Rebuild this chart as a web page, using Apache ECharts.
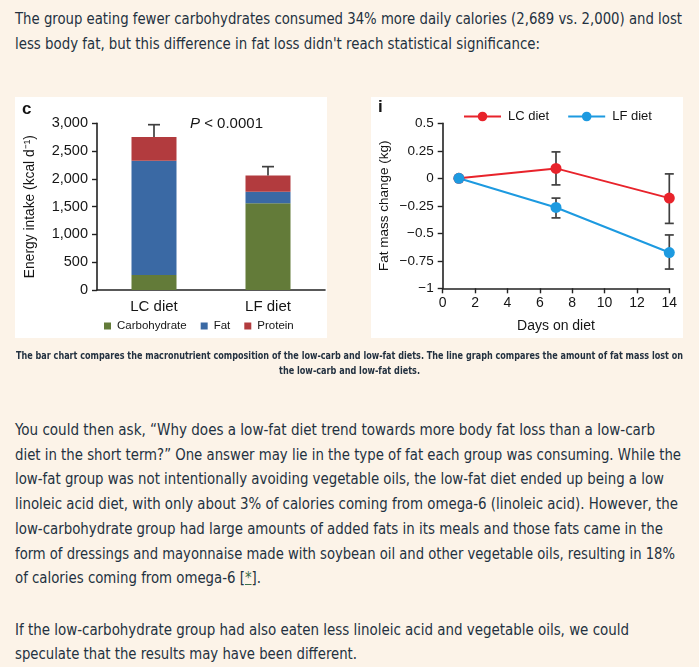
<!DOCTYPE html>
<html>
<head>
<meta charset="utf-8">
<script src="https://cdn.jsdelivr.net/npm/echarts@6/dist/echarts.min.js"></script>
<style>
html,body{margin:0;padding:0;}
body{width:699px;height:667px;overflow:hidden;background:#fcf3e8;position:relative;color:#233140;}
.ln{position:absolute;white-space:nowrap;font-family:"Liberation Sans Narrow","DejaVu Sans Condensed","Roboto",sans-serif;font-size:16px;line-height:1;transform-origin:0 50%;}
.cap{font-size:10.5px;font-weight:bold;}
.lk{color:#3b6e49;text-decoration:underline;}
#chart{position:absolute;left:0;top:90px;width:699px;height:260px;}
</style>
</head>
<body>
<div class="ln" style="left:15px;top:11px" data-w="667">The group eating fewer carbohydrates consumed 34% more daily calories (2,689 vs. 2,000) and lost</div>
<div class="ln" style="left:15px;top:35.5px" data-w="525">less body fat, but this difference in fat loss didn't reach statistical significance:</div>

<div id="chart"></div>

<div class="ln cap" style="top:349.5px" data-w="667" data-cx="349.5">The bar chart compares the macronutrient composition of the low-carb and low-fat diets. The line graph compares the amount of fat mass lost on</div>
<div class="ln cap" style="top:364.5px" data-w="141" data-cx="349.5">the low-carb and low-fat diets.</div>

<div class="ln" style="left:15px;top:422px" data-w="640">You could then ask, “Why does a low-fat diet trend towards more body fat loss than a low-carb</div>
<div class="ln" style="left:15px;top:446.7px" data-w="666">diet in the short term?” One answer may lie in the type of fat each group was consuming. While the</div>
<div class="ln" style="left:15px;top:471.4px" data-w="649">low-fat group was not intentionally avoiding vegetable oils, the low-fat diet ended up being a low</div>
<div class="ln" style="left:15px;top:496.1px" data-w="663">linoleic acid diet, with only about 3% of calories coming from omega-6 (linoleic acid). However, the</div>
<div class="ln" style="left:15px;top:520.8px" data-w="648">low-carbohydrate group had large amounts of added fats in its meals and those fats came in the</div>
<div class="ln" style="left:15px;top:545.5px" data-w="660">form of dressings and mayonnaise made with soybean oil and other vegetable oils, resulting in 18%</div>
<div class="ln" style="left:15px;top:570.2px" data-w="246">of calories coming from omega-6 [<span class="lk">*</span>].</div>
<div class="ln" style="left:15px;top:621.5px" data-w="614">If the low-carbohydrate group had also eaten less linoleic acid and vegetable oils, we could</div>
<div class="ln" style="left:15px;top:646.2px" data-w="342">speculate that the results may have been different.</div>

<script>
// ---- Data: panel c (energy intake, kcal/day) ----
const categories = ['LC diet', 'LF diet'];
const carbohydrate = [270, 1560];
const fat = [2057, 210];
const protein = [426, 290];
const intakeUpper = [2975, 2220];
const intakeTicks = [0, 500, 1000, 1500, 2000, 2500, 3000];

// ---- Data: panel i (fat mass change, kg) ----
const days = [1, 7, 14];
const lcFatMass = [0, 0.09, -0.18];
const lfFatMass = [0, -0.265, -0.675];
const lcLower = [null, -0.06, -0.41];
const lcUpper = [null, 0.24, 0.04];
const lfLower = [null, -0.36, -0.825];
const lfUpper = [null, -0.18, -0.515];
const dayTicks = [0, 2, 4, 6, 8, 10, 12, 14];
const massTicks = [-1, -0.75, -0.5, -0.25, 0, 0.25, 0.5];

const FONT = '"Liberation Sans", Arial, sans-serif';
const INK = '#151515';
const AX = '#222222';
const ERR = '#404040';

function fmtThousands(v) { return Number(v).toLocaleString('en-US'); }
function fmtMinus(v) { return v < 0 ? '\u2212' + String(Math.abs(v)) : String(v); }

const intakeErr = categories.map((c, i) => [i, carbohydrate[i] + fat[i] + protein[i], intakeUpper[i]]);
function massErr(lower, upper) {
  const out = [];
  days.forEach((d, i) => { if (lower[i] !== null) out.push([d, lower[i], upper[i]]); });
  return out;
}

function errRender(half) {
  return function (params, api) {
    const x = api.value(0);
    const a = api.coord([x, api.value(1)]);
    const b = api.coord([x, api.value(2)]);
    const st = { stroke: ERR, lineWidth: 1.7 };
    const ch = [
      { type: 'line', shape: { x1: a[0], y1: a[1], x2: b[0], y2: b[1] }, style: st },
      { type: 'line', shape: { x1: b[0] - half, y1: b[1], x2: b[0] + half, y2: b[1] }, style: st }
    ];
    if (params.seriesName.indexOf('mass') >= 0) {
      ch.push({ type: 'line', shape: { x1: a[0] - half, y1: a[1], x2: a[0] + half, y2: a[1] }, style: st });
    }
    return { type: 'group', children: ch };
  };
}

const chart = echarts.init(document.getElementById('chart'), null, { renderer: 'canvas' });
const option = {
  animation: false,
  textStyle: { fontFamily: FONT, color: INK },
  graphic: [
    { type: 'rect', z: -10, shape: { x: 15, y: 7, width: 312, height: 241 }, style: { fill: '#ffffff' } },
    { type: 'rect', z: -10, shape: { x: 371, y: 7, width: 312, height: 241 }, style: { fill: '#ffffff' } },
    { type: 'text', x: 22, y: 19, style: { text: 'c', font: 'bold 17px ' + FONT, fill: INK, verticalAlign: 'middle' } },
    { type: 'text', x: 378, y: 17, style: { text: 'i', font: 'bold 17px ' + FONT, fill: INK, verticalAlign: 'middle' } },
    { type: 'text', x: 190, y: 33.5, style: { text: '{i|P} < 0.0001', fontFamily: FONT, fontSize: 15, fill: INK, verticalAlign: 'middle', rich: { i: { fontStyle: 'italic', fontSize: 15, fontFamily: FONT } } } }
  ],
  legend: [
    {
      data: ['Carbohydrate', 'Fat', 'Protein'],
      left: 104, top: 230, padding: 0, icon: 'rect', itemWidth: 7, itemHeight: 7, itemGap: 14,
      textStyle: { fontSize: 11.5, color: INK, fontFamily: FONT, padding: [0, 0, 0, 1] }
    },
    {
      data: ['LC diet', 'LF diet'],
      left: 463, top: 20, padding: 0, itemWidth: 37, itemHeight: 12, itemGap: 18,
      textStyle: { fontSize: 13, color: INK, fontFamily: FONT, padding: [0, 0, 0, 2] }
    }
  ],
  grid: [
    { left: 97, top: 33.3, width: 228, height: 166.7 },
    { left: 442.7, top: 33.3, width: 226.6, height: 165 }
  ],
  xAxis: [
    {
      gridIndex: 0, type: 'category', data: categories, boundaryGap: true,
      axisLine: { lineStyle: { color: AX, width: 1.6 } }, axisTick: { show: false },
      axisLabel: { fontSize: 15, color: INK, margin: 9, fontFamily: FONT }
    },
    {
      gridIndex: 1, type: 'value', min: 0, max: 14, interval: 2,
      axisLine: { show: true, onZero: false, lineStyle: { color: AX, width: 1.6 } },
      axisTick: { show: true, length: 5, lineStyle: { color: AX, width: 1.4 } },
      splitLine: { show: false },
      axisLabel: { fontSize: 14, color: INK, margin: 8, fontFamily: FONT, customValues: dayTicks },
      name: 'Days on diet', nameLocation: 'middle', nameGap: 31,
      nameTextStyle: { fontSize: 14, color: INK, fontFamily: FONT }
    }
  ],
  yAxis: [
    {
      gridIndex: 0, type: 'value', min: 0, max: 3000, interval: 500,
      axisLine: { show: true, lineStyle: { color: AX, width: 1.6 } },
      axisTick: { show: true, length: 5, lineStyle: { color: AX, width: 1.4 } },
      splitLine: { show: false },
      axisLabel: { fontSize: 14.5, color: INK, margin: 9, fontFamily: FONT, formatter: fmtThousands },
      name: 'Energy intake (kcal d\u207B\u00B9)', nameLocation: 'middle', nameGap: 60, nameRotate: 90,
      nameTextStyle: { fontSize: 13.8, color: INK, fontFamily: FONT }
    },
    {
      gridIndex: 1, type: 'value', min: -1, max: 0.5, interval: 0.25,
      axisLine: { show: true, onZero: false, lineStyle: { color: AX, width: 1.6 } },
      axisTick: { show: true, length: 5, lineStyle: { color: AX, width: 1.4 } },
      splitLine: { show: false },
      axisLabel: { fontSize: 13.5, color: INK, margin: 9, fontFamily: FONT, formatter: fmtMinus },
      name: 'Fat mass change (kg)', nameLocation: 'middle', nameGap: 51, nameRotate: 90,
      nameTextStyle: { fontSize: 13.5, color: INK, fontFamily: FONT }
    }
  ],
  series: [
    { name: 'Carbohydrate', type: 'bar', stack: 'e', xAxisIndex: 0, yAxisIndex: 0, barWidth: 45, data: carbohydrate, itemStyle: { color: '#637b39' } },
    { name: 'Fat', type: 'bar', stack: 'e', xAxisIndex: 0, yAxisIndex: 0, barWidth: 45, data: fat, itemStyle: { color: '#3a69a4' } },
    { name: 'Protein', type: 'bar', stack: 'e', xAxisIndex: 0, yAxisIndex: 0, barWidth: 45, data: protein, itemStyle: { color: '#b23b3e' } },
    { name: 'intake error', type: 'custom', xAxisIndex: 0, yAxisIndex: 0, data: intakeErr, renderItem: errRender(6), z: 3 },
    { name: 'LC mass error', type: 'custom', xAxisIndex: 1, yAxisIndex: 1, data: massErr(lcLower, lcUpper), renderItem: errRender(4.5), z: 1 },
    { name: 'LF mass error', type: 'custom', xAxisIndex: 1, yAxisIndex: 1, data: massErr(lfLower, lfUpper), renderItem: errRender(4.5), z: 1 },
    {
      name: 'LC diet', type: 'line', xAxisIndex: 1, yAxisIndex: 1, z: 5,
      data: days.map((d, i) => [d, lcFatMass[i]]),
      symbol: 'circle', symbolSize: 11, lineStyle: { color: '#e8232b', width: 2 }, itemStyle: { color: '#e8232b' }
    },
    {
      name: 'LF diet', type: 'line', xAxisIndex: 1, yAxisIndex: 1, z: 5,
      data: days.map((d, i) => [d, lfFatMass[i]]),
      symbol: 'circle', symbolSize: 11, lineStyle: { color: '#1d9ae0', width: 2 }, itemStyle: { color: '#1d9ae0' }
    }
  ]
};
chart.setOption(option);

function fitLines() {
  document.querySelectorAll('.ln').forEach(function (el) {
    el.style.transform = 'none';
    const w = el.getBoundingClientRect().width;
    const t = +el.dataset.w;
    el.style.transform = 'scaleX(' + (t / w) + ')';
    if (el.dataset.cx) el.style.left = (+el.dataset.cx - t / 2) + 'px';
  });
}
fitLines();
if (document.fonts && document.fonts.ready) document.fonts.ready.then(fitLines);
</script>
</body>
</html>
